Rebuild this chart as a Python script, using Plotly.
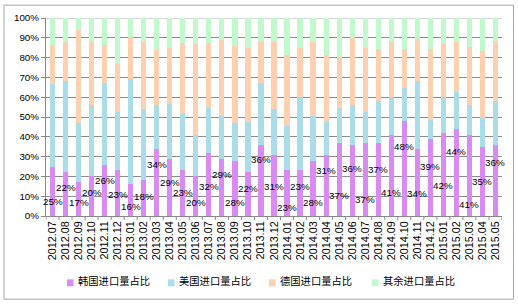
import plotly.graph_objects as go

months = ["2012.07", "2012.08", "2012.09", "2012.10", "2012.11", "2012.12",
          "2013.01", "2013.02", "2013.03", "2013.04", "2013.05", "2013.06",
          "2013.07", "2013.08", "2013.09", "2013.10", "2013.11", "2013.12",
          "2014.01", "2014.02", "2014.03", "2014.04", "2014.05", "2014.06",
          "2014.07", "2014.08", "2014.09", "2014.10", "2014.11", "2014.12",
          "2015.01", "2015.02", "2015.03", "2015.04", "2015.05"]

korea = [25, 22, 17, 20, 26, 23,
         16, 18, 34, 29, 23, 20, 32, 29, 28, 22, 36, 31,
         23, 23, 28, 31, 37, 36, 37, 37, 41, 48, 34, 39,
         42, 44, 41, 35, 36]

usa = [41.7, 46.0, 30.2, 36.3, 41.0, 29.3,
       53.3, 35.8, 22.3, 27.7, 28.3, 21.0, 22.7, 21.3, 19.0, 25.7, 31.0, 22.8,
       22.5, 37.0, 22.3, 16.5, 17.3, 20.3, 15.3, 21.3, 19.0, 16.7, 34.3, 9.5,
       18.0, 18.7, 15.3, 14.3, 22.3]

germany = [19.6, 19.7, 46.5, 31.4, 19.3, 24.7,
           21.0, 33.9, 27.4, 28.0, 36.0, 46.0, 32.6, 38.7, 39.0, 37.3, 20.7, 34.2,
           35.8, 25.0, 37.7, 33.8, 26.0, 33.4, 32.4, 25.9, 28.0, 19.5, 20.9, 35.7,
           26.7, 25.3, 28.9, 34.0, 30.2]

others = [13.7, 12.3, 6.3, 12.3, 13.7, 23.0,
          9.7, 12.3, 16.3, 15.3, 12.7, 13.0, 12.7, 11.0, 14.0, 15.0, 12.3, 12.0,
          18.7, 15.0, 12.0, 18.7, 19.7, 10.3, 15.3, 15.8, 12.0, 15.8, 10.8, 15.8,
          13.3, 12.0, 14.8, 16.7, 11.5]

# heights (in %) at which the Korea share labels sit
label_y = [7.2, 14.3, 7, 12, 17.7, 11,
           5, 10, 26, 17, 11.7, 7, 15, 21, 7, 14, 28.5, 15,
           4.3, 15, 7, 23, 10.5, 24, 8.3, 23.3, 12, 35, 11.3, 25,
           15.3, 32.5, 5.8, 17.5, 27]

names = ["韩国进口量占比", "美国进口量占比", "德国进口量占比", "其余进口量占比"]
colors = ["#D98AF3", "#ABDDE8", "#FDD0B0", "#C2F9CC"]
series = [korea, usa, germany, others]

idx = list(range(len(months)))

fig = go.Figure()
for nm, col, vals in zip(names, colors, series):
    fig.add_trace(go.Bar(x=idx, y=vals, name=nm, marker_color=col,
                         marker_line_width=0, showlegend=False))

for i, k, ly in zip(idx, korea, label_y):
    fig.add_annotation(x=i, y=ly, text=f"{k}%", showarrow=False,
                       xref="x", yref="y",
                       font=dict(family="Liberation Sans, Arial", size=9.8, color="#000"))

# plot area geometry in pixels (for paper conversions of decorations)
L, R, T, B = 46, 502, 16, 216
W, H = R - L, B - T
def px(x):
    return (x - L) / W
def py(y):
    return (B - y) / H

# outer chart border
fig.add_shape(type="rect", xref="paper", yref="paper",
              x0=px(4), x1=px(513.5), y0=py(300), y1=py(3),
              line=dict(color="#A6A6A6", width=1), fillcolor="rgba(0,0,0,0)", layer="below")

# manual legend
leg_sq_x = [67, 168, 269, 372]
for nm, col, sx in zip(names, colors, leg_sq_x):
    fig.add_shape(type="rect", xref="paper", yref="paper",
                  x0=px(sx), x1=px(sx + 6.5), y0=py(287), y1=py(280),
                  line_width=0, fillcolor=col)
    fig.add_annotation(xref="paper", yref="paper", x=px(sx + 9), y=py(281.5),
                       xanchor="left", yanchor="middle", showarrow=False, text=nm,
                       font=dict(family="Noto Sans CJK SC", size=10.3, color="#000"))

# category boundary ticks
bounds = [i - 0.5 for i in range(len(months) + 1)]

fig.update_layout(
    width=518, height=305,
    margin=dict(l=L, r=518 - R, t=T, b=305 - B, pad=0),
    barmode="stack", bargap=0.6,
    plot_bgcolor="white", paper_bgcolor="white",
    font=dict(family="Liberation Sans, Arial", color="#000"),
)
fig.update_xaxes(range=[-0.5, len(months) - 0.5],
                 tickmode="array", tickvals=idx, ticktext=months,
                 tickangle=-90, ticks="",
                 showline=True, linecolor="#888", linewidth=1,
                 tickfont=dict(size=10.8, color="#000"), showgrid=False, zeroline=False)
for b in bounds:
    fig.add_shape(type="line", xref="x", yref="paper", x0=b, x1=b,
                  y0=0, y1=-4 / H, line=dict(color="#888", width=1))

fig.update_yaxes(range=[0, 100], dtick=10, ticksuffix="%",
                 ticks="outside", ticklen=4, tickcolor="#888",
                 showline=True, linecolor="#888", linewidth=1,
                 showgrid=True, gridcolor="#8C8C8C", gridwidth=1,
                 tickfont=dict(size=9.8, color="#000"), zeroline=False)

# lighter top border line at 100%
fig.add_shape(type="line", xref="paper", yref="y", x0=0, x1=1, y0=100, y1=100,
              line=dict(color="#C8C8C8", width=1.5), layer="below")

fig.write_html("out.html")
